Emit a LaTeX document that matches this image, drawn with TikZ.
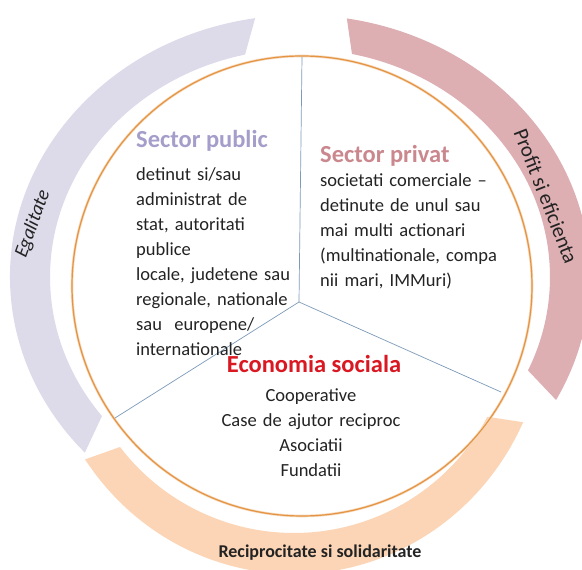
\documentclass[tikz,border=0pt]{standalone}
\usepackage{fontspec}
\setmainfont{Carlito}
\usetikzlibrary{calc}
\definecolor{lavband}{RGB}{221,218,234}
\definecolor{pinkband}{RGB}{221,174,178}
\definecolor{orgband}{RGB}{251,213,181}
\definecolor{ringcol}{RGB}{228,148,66}
\definecolor{pubcol}{RGB}{165,158,202}
\definecolor{privcol}{RGB}{202,136,142}
\definecolor{ecocol}{RGB}{218,24,34}
\definecolor{txt}{RGB}{35,35,35}
\definecolor{divcol}{RGB}{125,155,185}
\begin{document}
\begin{tikzpicture}[x=1pt,y=1pt,
  bodytext/.style={font=\fontsize{18.5}{25}\selectfont, text=txt, inner sep=0pt, align=left, text width=210pt, anchor=base west},
  centertext/.style={font=\fontsize{18.5}{25}\selectfont, text=txt, inner sep=0pt, align=center, text width=240pt, anchor=base},
  sectitle/.style={font=\fontsize{24.5}{28}\selectfont\bfseries, inner sep=0pt, anchor=base west},
  bandlabel/.style={font=\fontsize{19}{20}\selectfont, text=txt, inner sep=0pt},
  divider/.style={draw=divcol, line width=0.7pt}]
\useasboundingbox (0,0) rectangle (582,570);
\fill[white] (0,0) rectangle (582,570);
% centres
\coordinate (E) at (300,293);
\coordinate (O) at (294,256);
\coordinate (C) at (302,284);
% outer bands
\fill[lavband] ($(E)+(98.9:290pt and 262pt)$) arc[start angle=98.9, end angle=222.1, x radius=290pt, y radius=262pt]
  -- ($(E)+(217.6:250pt and 228pt)$) arc[start angle=217.6, end angle=102.7, x radius=250pt, y radius=228pt] -- cycle;
\fill[pinkband] ($(E)+(80.7:290pt and 262pt)$) arc[start angle=80.7, end angle=-28, x radius=290pt, y radius=262pt]
  -- ($(E)+(-24.2:250pt and 228pt)$) arc[start angle=-24.2, end angle=78, x radius=250pt, y radius=228pt] -- cycle;
\fill[orgband] ($(O)+(214:252pt and 260pt)$) arc[start angle=214, end angle=335.4, x radius=252pt, y radius=260pt]
  -- ($(O)+(332:219pt)$) arc[start angle=332, end angle=217.4, radius=219pt] -- cycle;
% ring
\draw[ringcol!35, line width=2.6pt] (C) circle[radius=230pt];
\node[circle, draw=ringcol, line width=1.2pt, minimum size=460pt, inner sep=0pt] (ring) at (C) {};
% dividers
\coordinate (J) at (299,268);
\coordinate (T) at (302,513);
\coordinate (L) at (115,152);
\coordinate (R) at (501,178);
\draw[divider] (J) -- (T);
\draw[divider] (J) -- (L);
\draw[divider] (J) -- (R);
% band labels
\node[bandlabel, rotate=70, font=\fontsize{19.5}{20}\selectfont\itshape] (egal) at (33,346) {Egalitate};
\node[bandlabel, rotate=-68.6, font=\fontsize{21}{22}\selectfont] (prof) at (546,374) {Profit si eficienta};
\node[font=\fontsize{18}{20}\selectfont\bfseries, text=txt, inner sep=0pt, anchor=base] (recip) at (320,12) {Reciprocitate si solidaritate};
% sector public
\node[sectitle, text=pubcol] (pubt) at (136,422) {Sector public};
\node[bodytext] (pubb) at (136,389) {detinut si/sau\\ administrat de\\ stat, autoritati\\ publice\\ locale, judetene sau\\ regionale, nationale\\ sau\ \ europene/\\ internationale};
% sector privat
\node[sectitle, text=privcol] (privt) at (320,407) {Sector privat};
\node[bodytext] (privb) at (320,383) {societati comerciale –\\ detinute de unul sau\\ mai multi actionari\\ (multinationale, compa\\ nii mari, IMMuri)};
% economia sociala
\node[font=\fontsize{24.5}{28}\selectfont\bfseries, text=ecocol, inner sep=0pt, anchor=base] (ecot) at (314,197) {Economia sociala};
\node[centertext] (ecob) at (311,168) {Cooperative\\ Case de ajutor reciproc\\ Asociatii\\ Fundatii};
\end{tikzpicture}
\end{document}
